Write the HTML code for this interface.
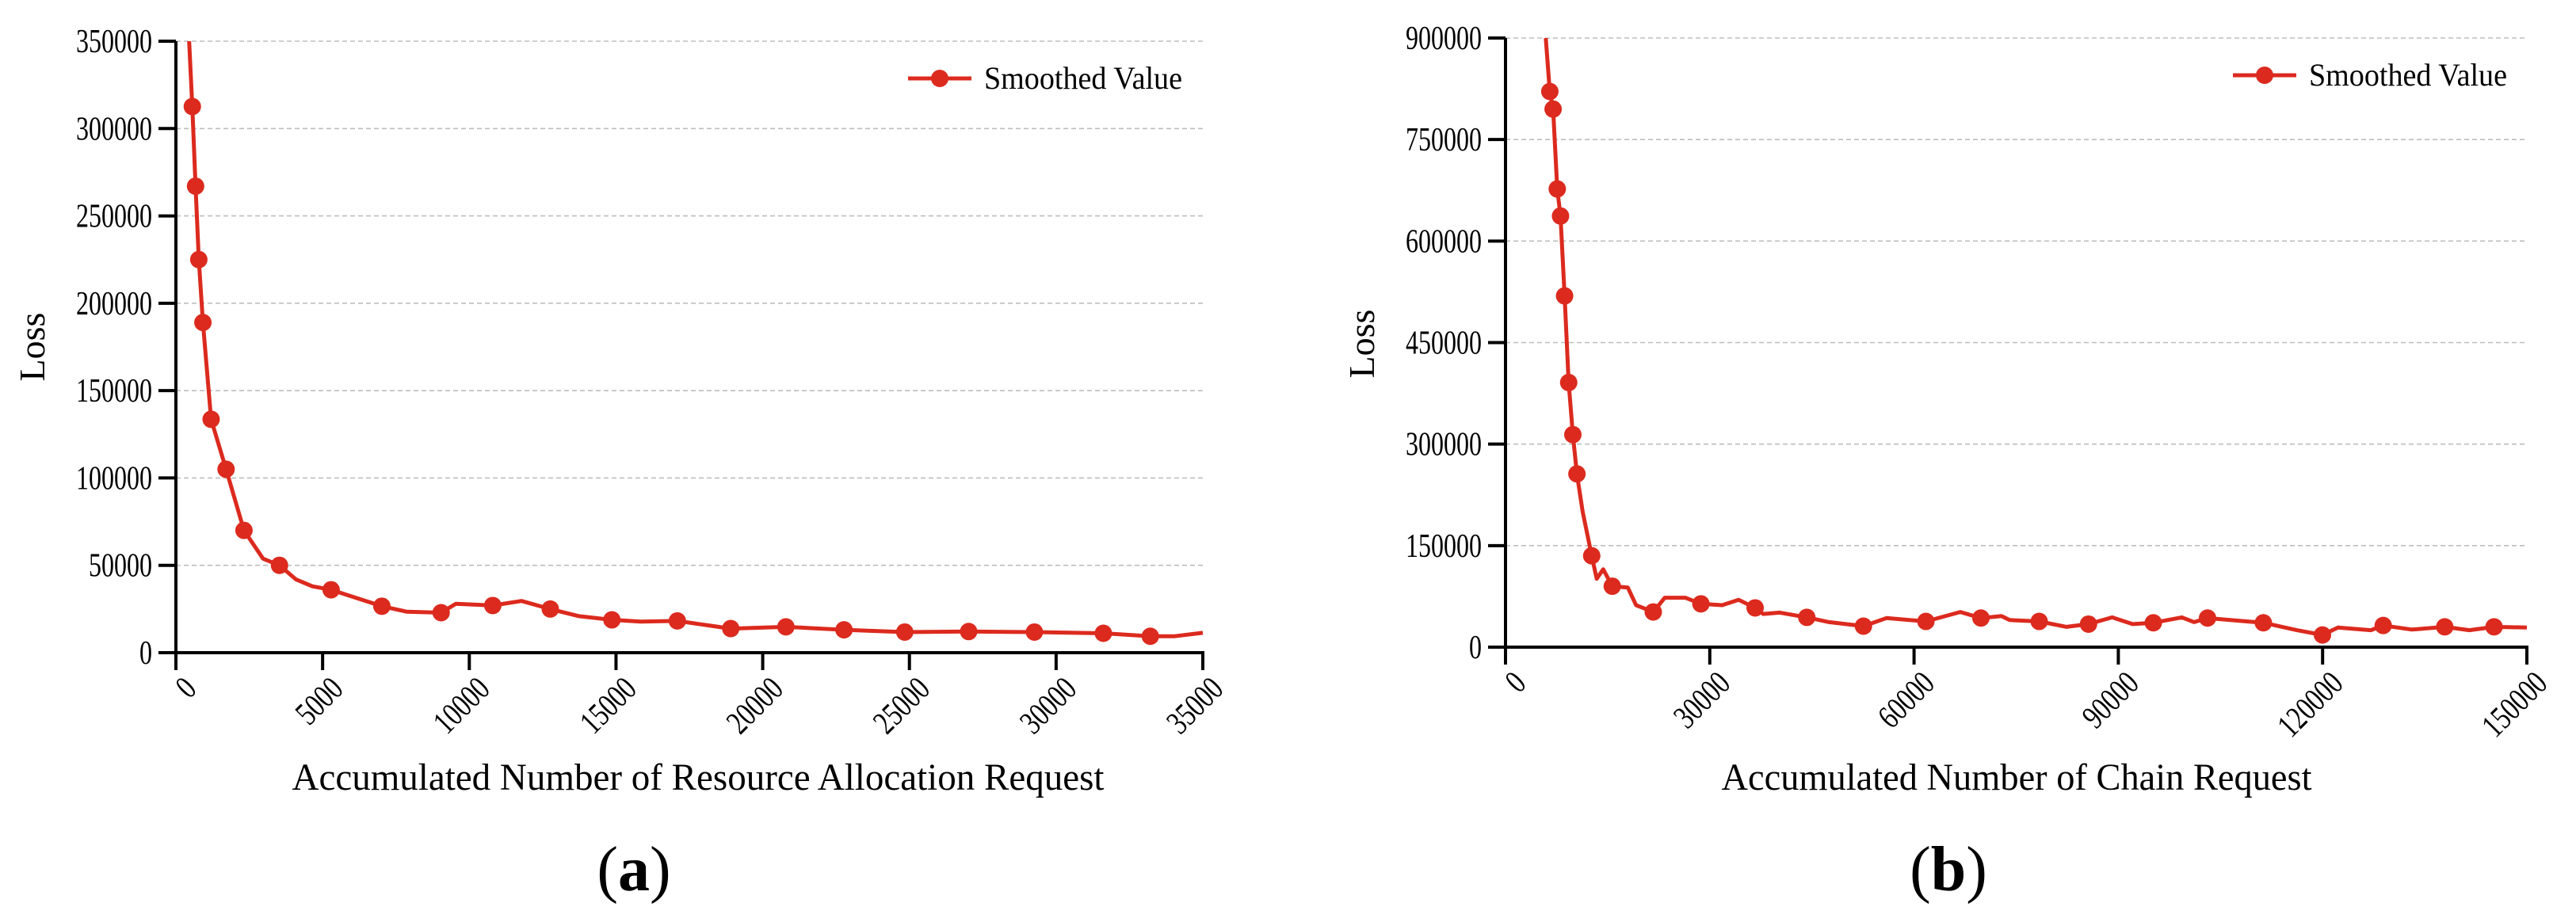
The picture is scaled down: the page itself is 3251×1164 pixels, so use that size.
<!DOCTYPE html>
<html><head><meta charset="utf-8"><style>
html,body{margin:0;padding:0;background:#fff;}
svg{display:block;font-family:"Liberation Serif",serif;}
</style></head><body>
<svg id="fig" width="3251" height="1164" viewBox="0 0 3251 1164" xmlns="http://www.w3.org/2000/svg"></svg>
<script>
// ---- Chart (a) data ----
const aXTicks = [0,5000,10000,15000,20000,25000,30000,35000];
const aYTicks = [0,50000,100000,150000,200000,250000,300000,350000];
const aMarkX = [560,670,780,920,1200,1710,2320,3530,5290,7020,9040,10800,12760,14860,17090,18910,20790,22770,24840,27020,29260,31610,33210];
const aMarkY = [312600,267000,225000,189000,133600,105000,70000,50000,36000,26600,22900,27000,25000,18800,18200,13800,14800,13100,11800,12100,11800,11100,9400];
const aLineX = [450,2970,4090,4650,7860,9540,11780,13740,15840,34020,35000];
const aLineY = [350000,53800,42000,38000,23500,28000,29600,20900,17800,9400,11400];
// ---- Chart (b) data ----
const bXTicks = [0,30000,60000,90000,120000,150000];
const bYTicks = [0,150000,300000,450000,600000,750000,900000];
const bMarkX = [6510,6990,7600,8080,8680,9280,9890,10490,12660,15680,21700,28700,36660,44250,52570,61740,69820,78380,85620,95140,103100,111300,119980,128900,137940,145180];
const bMarkY = [821000,795000,677000,637000,519000,391000,314000,256000,135000,90000,52000,64000,58000,44000,31000,38000,43000,38000,34000,36000,43000,36000,18000,32000,30000,30000];
const bLineX = [5910,11330,13390,14350,17970,19180,23390,26400,31830,34240,37860,40270,47510,55950,66800,72830,74030,82390,89100,92100,99330,101140,116230,122260,127080,133110,141550,150000];
const bLineY = [900000,200000,101000,115000,88000,62000,73000,73000,62000,70000,49000,51000,37000,43000,52000,46000,40000,30000,44000,34000,44000,37000,25000,29000,25000,26000,25000,29000];

const NS="http://www.w3.org/2000/svg";
const svg=document.getElementById('fig');
function mk(tag,attrs,parent){const e=document.createElementNS(NS,tag);for(const k in attrs)e.setAttribute(k,attrs[k]);(parent||svg).appendChild(e);return e;}

function drawChart(cfg){
  const g=mk('g',{});
  
  
  const xmax=cfg.xTicks[cfg.xTicks.length-1], ymax=cfg.yTicks[cfg.yTicks.length-1];
  const sx=v=>cfg.x0+(v/xmax)*(cfg.x1-cfg.x0);
  const sy=v=>cfg.y0-(v/ymax)*(cfg.y0-cfg.y1);
  cfg.yTicks.forEach(t=>{
    const y=sy(t);
    if(t>0){const gl=mk('line',{x1:cfg.x0,x2:cfg.x1,y1:y,y2:y,stroke:'#bdbdbd','stroke-width':1.6,'stroke-dasharray':'6,4'},g);
      
      }
    const tk=mk('line',{x1:cfg.x0-22,x2:cfg.x0,y1:y,y2:y,stroke:'#000','stroke-width':4},g);
    
    
    const s=String(t);
    const tl=mk('text',{x:cfg.x0-30,y:y+14,'text-anchor':'end','font-size':42,textLength:s.length*16,lengthAdjust:'spacingAndGlyphs'},g);
    tl.textContent=s;
    
    
  });
  cfg.xTicks.forEach(t=>{
    const x=sx(t);
    const tk=mk('line',{x1:x,x2:x,y1:cfg.y0,y2:cfg.y0+22,stroke:'#000','stroke-width':4},g);
    
    
    const ax=x+28, ay=cfg.y0+48;
    const s=String(t);
    const tl=mk('text',{x:ax,y:ay,'text-anchor':'end','font-size':42,textLength:s.length*16,lengthAdjust:'spacingAndGlyphs',transform:`rotate(-45 ${ax} ${ay})`},g);
    tl.textContent=s;
    
    
  });
  const ax1=mk('line',{x1:cfg.x0,x2:cfg.x0,y1:cfg.y1,y2:cfg.y0+2,stroke:'#000','stroke-width':4},g);
  
  
  const ax2=mk('line',{x1:cfg.x0-2,x2:cfg.x1+2,y1:cfg.y0,y2:cfg.y0,stroke:'#000','stroke-width':4},g);
  
  
  const pts=[];
  cfg.lineX.forEach((v,i)=>pts.push([v,cfg.lineY[i]]));
  cfg.markX.forEach((v,i)=>pts.push([v,cfg.markY[i]]));
  pts.sort((a,b)=>a[0]-b[0]);
  const cp=mk('clipPath',{id:cfg.name+'-clip'},g);
  mk('rect',{x:cfg.x0,y:cfg.y1,width:cfg.x1-cfg.x0+4,height:cfg.y0-cfg.y1},cp);
  const pl=mk('polyline',{points:pts.map(p=>sx(p[0]).toFixed(1)+','+sy(p[1]).toFixed(1)).join(' '),fill:'none',stroke:'#dc2a1e','stroke-width':5,'stroke-linejoin':'round','clip-path':`url(#${cfg.name}-clip)`},g);
  
  
  cfg.markX.forEach((v,i)=>{
    const c=mk('circle',{cx:sx(v),cy:sy(cfg.markY[i]),r:11,fill:'#dc2a1e'},g);
    
    
  });
  const lg=mk('g',{},g);
  
  
  mk('line',{x1:cfg.legX,x2:cfg.legX+80,y1:cfg.legY,y2:cfg.legY,stroke:'#dc2a1e','stroke-width':5},lg);
  mk('circle',{cx:cfg.legX+40,cy:cfg.legY,r:11,fill:'#dc2a1e'},lg);
  const lt=mk('text',{x:cfg.legX+96,y:cfg.legY+13,'font-size':40,textLength:250,lengthAdjust:'spacingAndGlyphs'},lg);
  lt.textContent='Smoothed Value';
  const yl=mk('text',{x:cfg.yTitleX,y:cfg.yTitleY,'text-anchor':'middle','font-size':46,transform:`rotate(-90 ${cfg.yTitleX} ${cfg.yTitleY})`},g);
  yl.textContent='Loss';
  
  
  const xl=mk('text',{x:cfg.xTitleX,y:997,'text-anchor':'middle','font-size':48,textLength:cfg.xTitleW,lengthAdjust:'spacingAndGlyphs'},g);
  xl.textContent=cfg.xTitle;
  
  
  const cap=mk('text',{x:cfg.capX,y:1124,'text-anchor':'middle','font-size':80},g);
  cap.innerHTML='(<tspan font-weight="bold">'+cfg.cap+'</tspan>)';
  
  
}

drawChart({name:'chart-a',x0:222,x1:1518,y0:824,y1:52,xTicks:aXTicks,yTicks:aYTicks,
  markX:aMarkX,markY:aMarkY,lineX:aLineX,lineY:aLineY,legX:1146,legY:99,
  yTitleX:56,yTitleY:438,xTitle:'Accumulated Number of Resource Allocation Request',xTitleX:881,xTitleW:1025,cap:'a',capX:800});
drawChart({name:'chart-b',x0:1900,x1:3189,y0:817,y1:48,xTicks:bXTicks,yTicks:bYTicks,
  markX:bMarkX,markY:bMarkY,lineX:bLineX,lineY:bLineY,legX:2818,legY:95,
  yTitleX:1734,yTitleY:434,xTitle:'Accumulated Number of Chain Request',xTitleX:2545,xTitleW:745,cap:'b',capX:2459});
</script>
</body></html>
